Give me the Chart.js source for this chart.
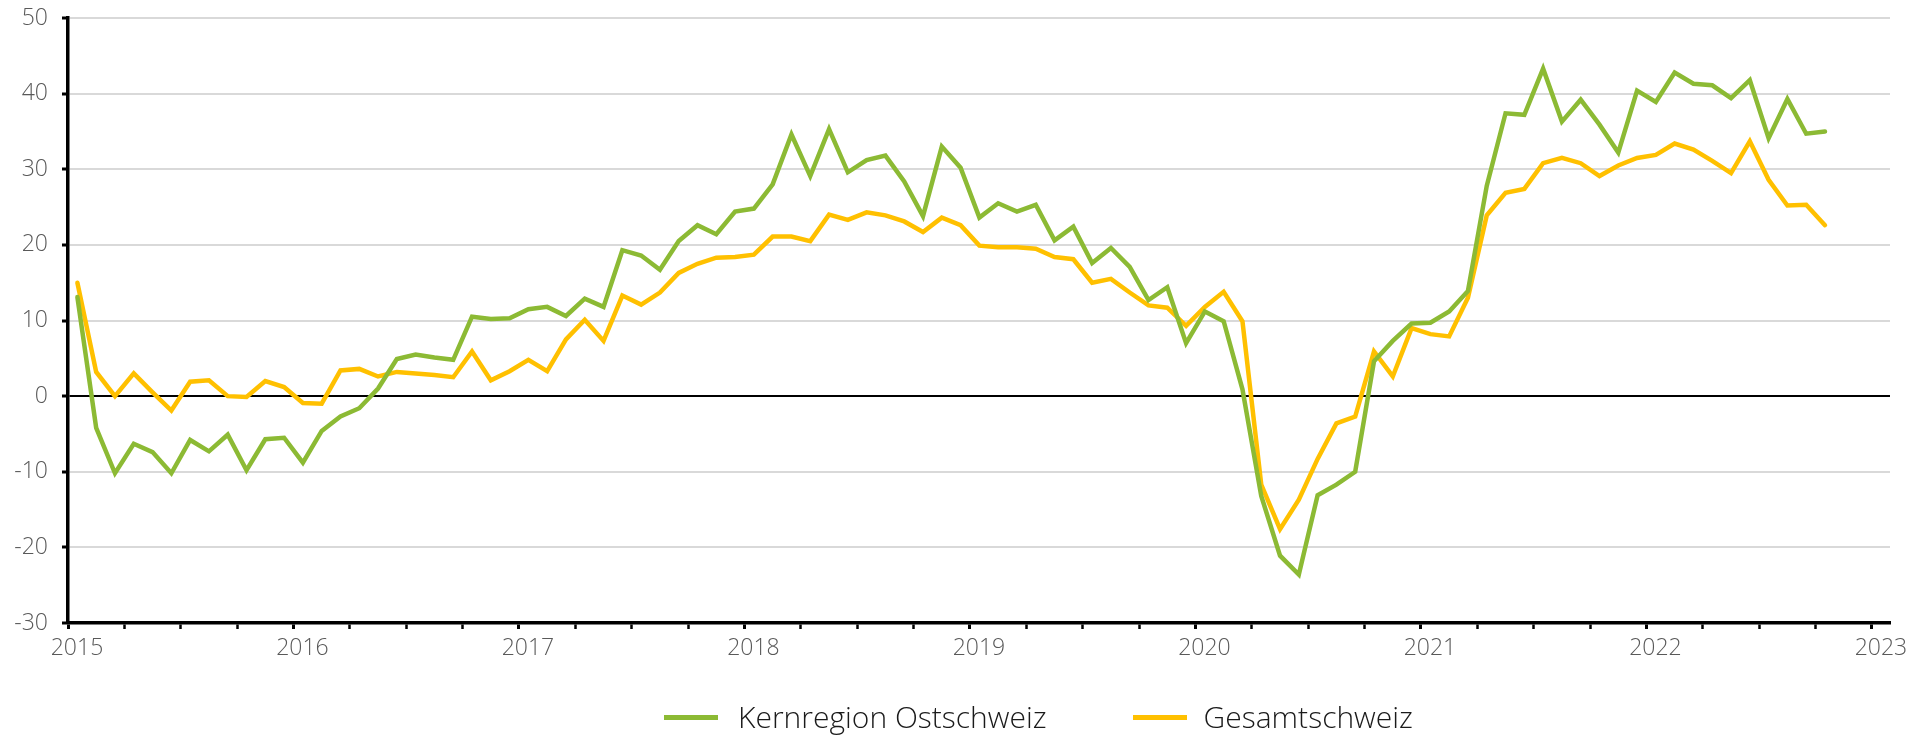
<!DOCTYPE html>
<html>
<head>
<meta charset="utf-8">
<script src="https://cdn.jsdelivr.net/npm/chart.js@4.4.1/dist/chart.umd.min.js"></script>
<style>
    body { margin: 0; background: #fff; }
    #wrap { position: relative; width: 1916px; height: 741px; }
    #legend { position: absolute; left: 664px; top: 700px; display: flex; align-items: center;
        font-family: "Open Sans", sans-serif; font-weight: 300; font-size: 30px; line-height: 34px; color: #1a1a1a; }
    #legend .item { display: flex; align-items: center; }
    #legend .line { width: 54px; height: 5px; margin-right: 20px; }
    #legend .item + .item { margin-left: 86px; }
    #legend .item + .item .line { margin-right: 17px; }
</style>
</head>
<body>
<div id="wrap">
    <canvas id="lineChart"></canvas>
    <div id="legend"></div>
</div>
<script>
    // Monatswerte Jan 2015 - Okt 2022
    const startYear = 2015;
    const seriesNames = ['Kernregion Ostschweiz', 'Gesamtschweiz'];
    const seriesColors = ['#8cba34', '#ffc000'];

    const kernregion = [
        13.1, -4.2, -10.2, -6.3, -7.4, -10.2, -5.8, -7.3, -5.1, -9.8, -5.7, -5.5,
        -8.8, -4.6, -2.7, -1.6, 1.0, 4.9, 5.5, 5.1, 4.8, 10.5, 10.2, 10.3,
        11.5, 11.8, 10.6, 12.9, 11.8, 19.3, 18.6, 16.7, 20.5, 22.6, 21.4, 24.4,
        24.8, 28.0, 34.6, 29.1, 35.3, 29.6, 31.2, 31.8, 28.4, 23.8, 33.0, 30.2,
        23.6, 25.5, 24.4, 25.3, 20.6, 22.4, 17.6, 19.6, 17.1, 12.7, 14.4, 7.0,
        11.2, 9.9, 0.9, -13.2, -21.1, -23.6, -13.1, -11.7, -10.0, 4.6, 7.3, 9.6,
        9.7, 11.2, 13.9, 27.8, 37.4, 37.2, 43.3, 36.3, 39.2, 35.9, 32.2, 40.4,
        38.9, 42.8, 41.3, 41.1, 39.4, 41.8, 34.1, 39.3, 34.7, 35.0
    ];

    const gesamtschweiz = [
        15.0, 3.2, 0.0, 3.0, 0.5, -1.9, 1.9, 2.1, 0.0, -0.1, 2.0, 1.2,
        -0.9, -1.0, 3.4, 3.6, 2.6, 3.2, 3.0, 2.8, 2.5, 5.9, 2.1, 3.3,
        4.8, 3.3, 7.5, 10.1, 7.3, 13.3, 12.1, 13.7, 16.3, 17.5, 18.3, 18.4,
        18.7, 21.1, 21.1, 20.5, 24.0, 23.3, 24.3, 23.9, 23.1, 21.7, 23.6, 22.6,
        19.9, 19.7, 19.7, 19.5, 18.4, 18.1, 15.0, 15.5, 13.7, 12.0, 11.7, 9.3,
        11.8, 13.8, 9.9, -11.7, -17.6, -13.7, -8.3, -3.6, -2.7, 5.9, 2.6, 9.0,
        8.2, 7.9, 13.0, 23.9, 26.9, 27.4, 30.8, 31.5, 30.8, 29.1, 30.5, 31.5,
        31.9, 33.4, 32.6, 31.1, 29.5, 33.7, 28.6, 25.2, 25.3, 22.6
    ];

    const yTicks = [-30, -20, -10, 0, 10, 20, 30, 40, 50];
    const xYears = [2015, 2016, 2017, 2018, 2019, 2020, 2021, 2022, 2023];

    // Monatsmitte als x-Position
    function toPoints(values) {
        return values.map((v, i) => ({ x: startYear + (i + 0.5) / 12, y: v }));
    }

    const tickFont = { family: '"Open Sans", sans-serif', size: 23, weight: 300 };

    const chart = new Chart(document.getElementById('lineChart'), {
        type: 'line',
        data: {
            datasets: [kernregion, gesamtschweiz].map((values, k) => ({
                label: seriesNames[k],
                data: toPoints(values),
                borderColor: seriesColors[k],
                backgroundColor: seriesColors[k],
                borderWidth: 4.5,
                pointRadius: 0,
                tension: 0,
                borderCapStyle: 'round',
                fill: false
            }))
        },
        options: {
            responsive: true,
            maintainAspectRatio: false,
            animation: false,
            layout: { padding: { top: 18, right: 26, bottom: 73, left: 0 } },
            plugins: {
                legend: { display: false },
                tooltip: { enabled: false }
            },
            scales: {
                x: {
                    type: 'linear',
                    min: xYears[0],
                    max: 2023.08,
                    afterFit: function (scale) { scale.height = 45; },
                    border: { display: true, color: '#000', width: 3.5 },
                    grid: {
                        drawOnChartArea: false,
                        drawTicks: true,
                        tickLength: 6,
                        tickColor: '#000',
                        tickWidth: ctx => Number.isInteger(ctx.tick.value) ? 3 : 2.5
                    },
                    ticks: {
                        stepSize: 0.25,
                        includeBounds: false,
                        autoSkip: false,
                        maxRotation: 0,
                        labelOffset: 9,
                        padding: 6,
                        color: '#595959',
                        font: tickFont,
                        callback: v => xYears.includes(v) ? String(v) : ''
                    }
                },
                y: {
                    min: yTicks[0],
                    max: yTicks[yTicks.length - 1],
                    afterFit: function (scale) {
                        scale.width = 68;
                        scale.paddingTop = 0;
                        scale.paddingBottom = 0;
                    },
                    border: { display: true, color: '#000', width: 3.5 },
                    grid: {
                        color: ctx => ctx.tick.value === 0 ? '#000' : '#d9d9d9',
                        lineWidth: 2,
                        drawTicks: true,
                        tickLength: 6,
                        tickColor: '#000',
                        tickWidth: 3
                    },
                    ticks: {
                        stepSize: 10,
                        padding: 14,
                        color: '#595959',
                        font: tickFont
                    }
                }
            }
        }
    });

    // HTML-Legende aus den Datensätzen
    const legendBox = document.getElementById('legend');
    chart.data.datasets.forEach(ds => {
        const item = document.createElement('div');
        item.className = 'item';
        const line = document.createElement('span');
        line.className = 'line';
        line.style.background = ds.borderColor;
        const text = document.createElement('span');
        text.textContent = ds.label;
        item.appendChild(line);
        item.appendChild(text);
        legendBox.appendChild(item);
    });
</script>
</body>
</html>
